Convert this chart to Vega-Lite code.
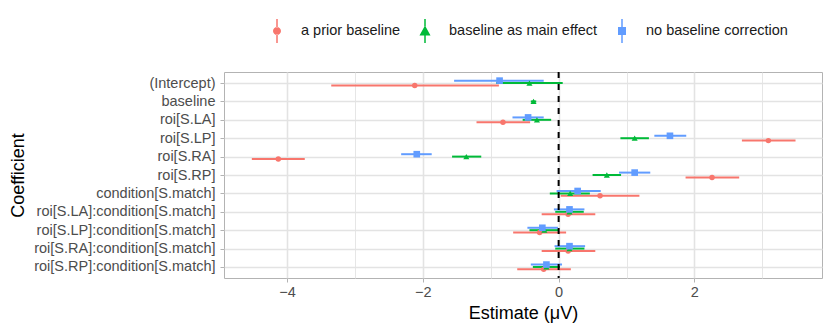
{
  "$schema": "https://vega.github.io/schema/vega-lite/v6.json",
  "width": 598,
  "height": 206,
  "autosize": {"type": "none"},
  "padding": {"left": 224, "top": 72, "right": 8, "bottom": 55},
  "background": "white",
  "config": {
    "font": "Liberation Sans",
    "view": {"stroke": "#B3B3B3", "strokeWidth": 1},
    "axis": {
      "labelFont": "Liberation Sans",
      "titleFont": "Liberation Sans",
      "labelFontSize": 14.5,
      "titleFontSize": 18,
      "titleFontWeight": "normal",
      "labelColor": "#4D4D4D",
      "titleColor": "#000000",
      "labelLimit": 400,
      "domain": false,
      "tickColor": "#B3B3B3",
      "tickSize": 4,
      "gridColor": "#E3E3E3"
    },
    "legend": {
      "labelFont": "Liberation Sans",
      "labelFontSize": 14.5,
      "labelColor": "#1A1A1A"
    }
  },
  "data": {
    "values": [
      {"coef": "(Intercept)", "model": "a prior baseline", "est": -2.12, "lo": -3.35, "hi": -0.88},
      {"coef": "(Intercept)", "model": "baseline as main effect", "est": -0.43, "lo": -0.92, "hi": 0.06},
      {"coef": "(Intercept)", "model": "no baseline correction", "est": -0.87, "lo": -1.54, "hi": -0.22},
      {"coef": "baseline", "model": "baseline as main effect", "est": -0.37, "lo": -0.41, "hi": -0.33},
      {"coef": "roi[S.LA]", "model": "a prior baseline", "est": -0.82, "lo": -1.21, "hi": -0.42},
      {"coef": "roi[S.LA]", "model": "baseline as main effect", "est": -0.32, "lo": -0.53, "hi": -0.11},
      {"coef": "roi[S.LA]", "model": "no baseline correction", "est": -0.45, "lo": -0.68, "hi": -0.22},
      {"coef": "roi[S.LP]", "model": "a prior baseline", "est": 3.09, "lo": 2.70, "hi": 3.49},
      {"coef": "roi[S.LP]", "model": "baseline as main effect", "est": 1.12, "lo": 0.91, "hi": 1.33},
      {"coef": "roi[S.LP]", "model": "no baseline correction", "est": 1.64, "lo": 1.41, "hi": 1.88},
      {"coef": "roi[S.RA]", "model": "a prior baseline", "est": -4.13, "lo": -4.52, "hi": -3.74},
      {"coef": "roi[S.RA]", "model": "baseline as main effect", "est": -1.36, "lo": -1.57, "hi": -1.14},
      {"coef": "roi[S.RA]", "model": "no baseline correction", "est": -2.09, "lo": -2.32, "hi": -1.87},
      {"coef": "roi[S.RP]", "model": "a prior baseline", "est": 2.26, "lo": 1.87, "hi": 2.66},
      {"coef": "roi[S.RP]", "model": "baseline as main effect", "est": 0.71, "lo": 0.50, "hi": 0.92},
      {"coef": "roi[S.RP]", "model": "no baseline correction", "est": 1.12, "lo": 0.89, "hi": 1.35},
      {"coef": "condition[S.match]", "model": "a prior baseline", "est": 0.61, "lo": 0.03, "hi": 1.19},
      {"coef": "condition[S.match]", "model": "baseline as main effect", "est": 0.17, "lo": -0.13, "hi": 0.46},
      {"coef": "condition[S.match]", "model": "no baseline correction", "est": 0.28, "lo": -0.03, "hi": 0.62},
      {"coef": "roi[S.LA]:condition[S.match]", "model": "a prior baseline", "est": 0.14, "lo": -0.25, "hi": 0.54},
      {"coef": "roi[S.LA]:condition[S.match]", "model": "baseline as main effect", "est": 0.16, "lo": -0.05, "hi": 0.37},
      {"coef": "roi[S.LA]:condition[S.match]", "model": "no baseline correction", "est": 0.16, "lo": -0.07, "hi": 0.38},
      {"coef": "roi[S.LP]:condition[S.match]", "model": "a prior baseline", "est": -0.28, "lo": -0.67, "hi": 0.11},
      {"coef": "roi[S.LP]:condition[S.match]", "model": "baseline as main effect", "est": -0.21, "lo": -0.43, "hi": 0.0},
      {"coef": "roi[S.LP]:condition[S.match]", "model": "no baseline correction", "est": -0.24, "lo": -0.46, "hi": -0.01},
      {"coef": "roi[S.RA]:condition[S.match]", "model": "a prior baseline", "est": 0.14, "lo": -0.25, "hi": 0.54},
      {"coef": "roi[S.RA]:condition[S.match]", "model": "baseline as main effect", "est": 0.16, "lo": -0.05, "hi": 0.38},
      {"coef": "roi[S.RA]:condition[S.match]", "model": "no baseline correction", "est": 0.16, "lo": -0.06, "hi": 0.39},
      {"coef": "roi[S.RP]:condition[S.match]", "model": "a prior baseline", "est": -0.22, "lo": -0.61, "hi": 0.18},
      {"coef": "roi[S.RP]:condition[S.match]", "model": "baseline as main effect", "est": -0.18, "lo": -0.38, "hi": 0.02},
      {"coef": "roi[S.RP]:condition[S.match]", "model": "no baseline correction", "est": -0.18, "lo": -0.41, "hi": 0.05}
    ]
  },
  "encoding": {
    "y": {
      "field": "coef",
      "type": "nominal",
      "title": "Coefficient",
      "sort": ["(Intercept)", "baseline", "roi[S.LA]", "roi[S.LP]", "roi[S.RA]", "roi[S.RP]", "condition[S.match]", "roi[S.LA]:condition[S.match]", "roi[S.LP]:condition[S.match]", "roi[S.RA]:condition[S.match]", "roi[S.RP]:condition[S.match]"],
      "scale": {"type": "point", "padding": 0.6},
      "axis": {"grid": true, "gridWidth": 1.6, "labelPadding": 5, "titlePadding": 6}
    },
    "yOffset": {
      "field": "model",
      "type": "nominal",
      "scale": {"type": "point", "domain": ["no baseline correction", "baseline as main effect", "a prior baseline"], "range": [-2.4, 2.4], "padding": 0}
    }
  },
  "layer": [
    {
      "mark": {"type": "rule", "strokeWidth": 2},
      "encoding": {
        "x": {
          "field": "lo",
          "type": "quantitative",
          "title": "Estimate (μV)",
          "scale": {"domain": [-4.93, 3.88], "nice": false, "zero": false},
          "axis": {
            "values": [-4, -3, -2, -1, 0, 1, 2, 3],
            "labelExpr": "datum.value % 2 === 0 ? replace(format(datum.value, 'd'), '-', '\u2212') : ''",
            "grid": true,
            "gridWidth": {"condition": {"test": "datum.value % 2 !== 0", "value": 0.9}, "value": 1.6},
            "tickOpacity": {"condition": {"test": "datum.value % 2 !== 0", "value": 0}, "value": 1},
            "labelPadding": 3,
            "titlePadding": 6
          }
        },
        "x2": {"field": "hi"},
        "color": {
          "field": "model",
          "type": "nominal",
          "scale": {"domain": ["a prior baseline", "baseline as main effect", "no baseline correction"], "range": ["#F8766D", "#00BA38", "#619CFF"]},
          "legend": null
        }
      }
    },
    {
      "mark": {"type": "point", "filled": true, "size": 0},
      "encoding": {
        "x": {"field": "est", "type": "quantitative"},
        "color": {
          "field": "model",
          "type": "nominal",
          "title": null,
          "scale": {"domain": ["a prior baseline", "baseline as main effect", "no baseline correction"], "range": ["#F8766D", "#00BA38", "#619CFF"]},
          "legend": {
            "orient": "none",
            "direction": "horizontal",
            "legendX": 41,
            "legendY": -53,
            "padding": 0,
            "symbolSize": 576,
            "symbolStrokeWidth": 0,
            "symbolOpacity": 1,
            "labelOffset": 12,
            "columnPadding": 12
          }
        },
        "shape": {
          "field": "model",
          "type": "nominal",
          "title": null,
          "scale": {"domain": ["a prior baseline", "baseline as main effect", "no baseline correction"], "range": ["M-0.0625,-1L0.0625,-1L0.0625,-0.3L-0.0625,-0.3Z M-0.0625,0.3L0.0625,0.3L0.0625,1L-0.0625,1Z M-0.333,0A0.333,0.333 0 1,0 0.333,0A0.333,0.333 0 1,0 -0.333,0Z", "M-0.0625,-1L0.0625,-1L0.0625,-0.4L-0.0625,-0.4Z M-0.0625,0.38L0.0625,0.38L0.0625,1L-0.0625,1Z M0,-0.45L0.46,0.38L-0.46,0.38Z", "M-0.0625,-1L0.0625,-1L0.0625,-0.333L-0.0625,-0.333Z M-0.0625,0.333L0.0625,0.333L0.0625,1L-0.0625,1Z M-0.333,-0.333L0.333,-0.333L0.333,0.333L-0.333,0.333Z"]},
          "legend": {
            "orient": "none",
            "direction": "horizontal",
            "legendX": 41,
            "legendY": -53,
            "padding": 0,
            "symbolSize": 576,
            "symbolStrokeWidth": 0,
            "symbolOpacity": 1,
            "labelOffset": 12,
            "columnPadding": 12
          }
        }
      }
    },
    {
      "mark": {"type": "point", "filled": true, "opacity": 1},
      "encoding": {
        "x": {"field": "est", "type": "quantitative"},
        "color": {
          "field": "model",
          "type": "nominal",
          "scale": {"domain": ["a prior baseline", "baseline as main effect", "no baseline correction"], "range": ["#F8766D", "#00BA38", "#619CFF"]},
          "legend": null
        },
        "shape": {
          "field": "model",
          "type": "nominal",
          "scale": {"domain": ["a prior baseline", "baseline as main effect", "no baseline correction"], "range": ["circle", "triangle-up", "square"]},
          "legend": null
        },
        "size": {
          "field": "model",
          "type": "nominal",
          "scale": {"domain": ["a prior baseline", "baseline as main effect", "no baseline correction"], "range": [30, 44, 30]},
          "legend": null
        }
      }
    },
    {
      "data": {"values": [{"zero": 0}]},
      "mark": {"type": "rule", "color": "black", "strokeWidth": 2, "strokeDash": [6, 6]},
      "encoding": {
        "x": {"field": "zero", "type": "quantitative"},
        "y": null,
        "yOffset": null
      }
    }
  ],
  "resolve": {"scale": {"shape": "independent", "color": "independent"}}
}
